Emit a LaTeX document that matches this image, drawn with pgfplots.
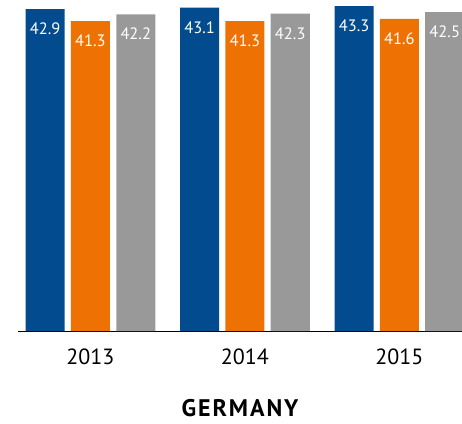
\documentclass[border=0pt]{standalone}
\usepackage{fontspec}
\setmainfont{PT Sans}
\usepackage{pgfplots}
\pgfplotsset{compat=1.18}
\definecolor{cblue}{HTML}{024B8F}
\definecolor{corange}{HTML}{EE7203}
\definecolor{cgray}{HTML}{999999}
\begin{document}
\begin{tikzpicture}
\path[use as bounding box] (-18pt,-92pt) rectangle (444pt,331pt);
\begin{axis}[
  at={(0,0)}, anchor=south west,
  scale only axis, width=444pt, height=331pt,
  ymin=0, ymax=44.13,
  xmin=-0.469, xmax=2.405,
  ybar=6.3pt, bar width=39pt,
  axis y line=none,
  axis x line*=bottom,
  axis line style={black, line width=0.8pt, -},
  xtick={0,1,2}, xticklabels={2013,2014,2015},
  major tick length=0pt,
  xticklabel style={font=\fontsize{22}{23}\selectfont, yshift=-14.5pt},
  xlabel={\fontsize{24}{25}\selectfont\bfseries\addfontfeatures{LetterSpace=8}GERMANY},
  xlabel style={yshift=-31pt, inner sep=0pt},
  /pgf/number format/assume math mode=true,
  nodes near coords,
  nodes near coords style={/pgf/number format/fixed, /pgf/number format/fixed zerofill, /pgf/number format/precision=1},
  every node near coord/.append style={anchor=north, text=white, font=\fontsize{16.5}{17}\selectfont, yshift=-10pt},
  enlarge x limits=false,
  clip=false,
]
\addplot[fill=cblue, draw=none] coordinates {(0,42.9) (1,43.1) (2,43.3)};
\addplot[fill=corange, draw=none] coordinates {(0,41.3) (1,41.3) (2,41.6)};
\addplot[fill=cgray, draw=none] coordinates {(0,42.2) (1,42.3) (2,42.5)};
\end{axis}
\end{tikzpicture}
\end{document}
